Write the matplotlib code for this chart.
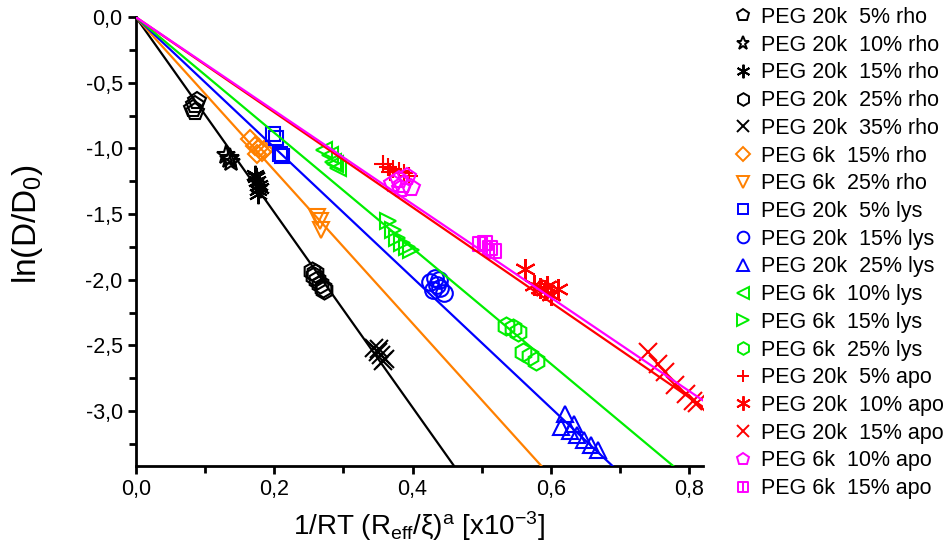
import numpy as np
import matplotlib
matplotlib.use("Agg")
import matplotlib.pyplot as plt
from matplotlib.path import Path
from matplotlib.ticker import FuncFormatter, MultipleLocator

matplotlib.rcParams['font.family'] = ['Liberation Sans', 'DejaVu Sans']
matplotlib.rcParams['mathtext.fontset'] = 'custom'
matplotlib.rcParams['mathtext.rm'] = 'Liberation Sans'
matplotlib.rcParams['mathtext.it'] = 'Liberation Sans'
matplotlib.rcParams['mathtext.default'] = 'regular'

# data: (x, ln(D/D0)) per series
labels = ["PEG 20k  5% rho", "PEG 20k  10% rho", "PEG 20k  15% rho",
          "PEG 20k  25% rho", "PEG 20k  35% rho", "PEG 6k  15% rho",
          "PEG 6k  25% rho", "PEG 20k  5% lys", "PEG 20k  15% lys",
          "PEG 20k  25% lys", "PEG 6k  10% lys", "PEG 6k  15% lys",
          "PEG 6k  25% lys", "PEG 20k  5% apo", "PEG 20k  10% apo",
          "PEG 20k  15% apo", "PEG 6k  10% apo", "PEG 6k  15% apo"]

x_rho20_5 = [0.083, 0.086, 0.088, 0.085]
y_rho20_5 = [-0.70, -0.67, -0.64, -0.72]
x_rho20_10 = [0.130, 0.134, 0.138, 0.136]
y_rho20_10 = [-1.05, -1.08, -1.10, -1.07]
x_rho20_15 = [0.172, 0.175, 0.178, 0.176, 0.180, 0.174, 0.177]
y_rho20_15 = [-1.20, -1.25, -1.28, -1.32, -1.30, -1.22, -1.35]
x_rho20_25 = [0.255, 0.257, 0.262, 0.266, 0.270, 0.272, 0.259]
y_rho20_25 = [-1.93, -1.97, -2.00, -2.03, -2.06, -2.08, -1.95]
x_rho20_35 = [0.345, 0.350, 0.355, 0.360, 0.352, 0.357]
y_rho20_35 = [-2.52, -2.55, -2.57, -2.60, -2.53, -2.62]
x_rho6_15 = [0.165, 0.172, 0.178, 0.182, 0.186, 0.175]
y_rho6_15 = [-0.93, -0.98, -1.00, -1.03, -1.01, -1.04]
x_rho6_25 = [0.262, 0.268, 0.266]
y_rho6_25 = [-1.52, -1.62, -1.55]
x_lys20_5 = [0.198, 0.203, 0.209, 0.212]
y_lys20_5 = [-0.89, -0.92, -1.04, -1.06]
x_lys20_15 = [0.425, 0.432, 0.435, 0.440, 0.445, 0.430, 0.438]
y_lys20_15 = [-2.02, -1.99, -2.04, -2.06, -2.10, -2.08, -2.00]
x_lys20_25 = [0.620, 0.615, 0.628, 0.638, 0.648, 0.658, 0.668, 0.633]
y_lys20_25 = [-3.02, -3.12, -3.15, -3.18, -3.22, -3.26, -3.30, -3.10]
x_lys6_10 = [0.272, 0.280, 0.285, 0.292, 0.288]
y_lys6_10 = [-1.01, -1.05, -1.10, -1.15, -1.12]
x_lys6_15 = [0.365, 0.372, 0.378, 0.385, 0.392, 0.398]
y_lys6_15 = [-1.55, -1.62, -1.68, -1.72, -1.75, -1.77]
x_lys6_25 = [0.535, 0.545, 0.552, 0.560, 0.570, 0.578]
y_lys6_25 = [-2.35, -2.37, -2.40, -2.55, -2.58, -2.62]
x_apo20_5 = [0.358, 0.365, 0.372, 0.380, 0.388, 0.395, 0.368]
y_apo20_5 = [-1.12, -1.14, -1.16, -1.17, -1.19, -1.21, -1.18]
x_apo20_10 = [0.563, 0.575, 0.585, 0.592, 0.600, 0.610, 0.595]
y_apo20_10 = [-1.92, -2.04, -2.06, -2.08, -2.12, -2.07, -2.05]
x_apo20_15 = [0.740, 0.755, 0.765, 0.780, 0.795, 0.805, 0.812]
y_apo20_15 = [-2.55, -2.64, -2.70, -2.80, -2.87, -2.92, -2.94]
x_apo6_10 = [0.372, 0.380, 0.386, 0.392, 0.398, 0.384]
y_apo6_10 = [-1.27, -1.24, -1.28, -1.22, -1.30, -1.31]
x_apo6_15 = [0.498, 0.505, 0.512, 0.518]
y_apo6_15 = [-1.73, -1.72, -1.76, -1.78]

xs = [x_rho20_5, x_rho20_10, x_rho20_15, x_rho20_25, x_rho20_35, x_rho6_15,
      x_rho6_25, x_lys20_5, x_lys20_15, x_lys20_25, x_lys6_10, x_lys6_15,
      x_lys6_25, x_apo20_5, x_apo20_10, x_apo20_15, x_apo6_10, x_apo6_15]
ys = [y_rho20_5, y_rho20_10, y_rho20_15, y_rho20_25, y_rho20_35, y_rho6_15,
      y_rho6_25, y_lys20_5, y_lys20_15, y_lys20_25, y_lys6_10, y_lys6_15,
      y_lys6_25, y_apo20_5, y_apo20_10, y_apo20_15, y_apo6_10, y_apo6_15]

# fitted slopes of the lines through the origin
fit_slopes = [-7.43, -5.83, -4.96, -4.40, -3.62, -3.56]
fit_colors = ["black", "#ff8000", "blue", "#00ee00", "red", "magenta"]

black, orange, blue, green, red, mag = "black", "#ff8000", "blue", "#00ee00", "red", "magenta"
colors = [black] * 5 + [orange] * 2 + [blue] * 3 + [green] * 3 + [red] * 3 + [mag] * 2

# square with a vertical line in the middle
sq_bar = Path([(-1, -1), (1, -1), (1, 1), (-1, 1), (-1, -1), (0, -1), (0, 1)],
              [Path.MOVETO, Path.LINETO, Path.LINETO, Path.LINETO, Path.CLOSEPOLY,
               Path.MOVETO, Path.LINETO])
markers = ["p", "*", (6, 2, 0), "h", "x", "D", "v", "s", "o", "^", "<", ">", "h",
           "+", (6, 2, 0), "x", "p", sq_bar]
sizes = [13, 14, 14, 13, 13, 9.5, 12, 10.5, 12, 12, 12, 12, 13, 13, 15, 13, 13, 10.5]

fig = plt.figure(figsize=(9.5, 5.53), dpi=100)
ax = fig.add_axes([0.143, 0.157, 0.597, 0.812])

xl = np.array([0.0, 0.82])
for s, c in zip(fit_slopes, fit_colors):
    ax.plot(xl, s * xl, color=c, lw=1.6, zorder=3)

handles = []
for x, y, m, c, ms, lab in zip(xs, ys, markers, colors, sizes, labels):
    h, = ax.plot(x, y, ls="none", marker=m, ms=ms, mfc="none", mec=c,
                 mew=1.5, label=lab, zorder=2)
    handles.append(h)

ax.set_xlim(0, 0.82)
ax.set_ylim(-3.42, 0)
for sp in ["top", "right"]:
    ax.spines[sp].set_visible(False)
for sp in ["left", "bottom"]:
    ax.spines[sp].set_linewidth(2)
ax.xaxis.set_major_locator(MultipleLocator(0.2))
ax.xaxis.set_minor_locator(MultipleLocator(0.1))
ax.yaxis.set_major_locator(MultipleLocator(0.5))
ax.yaxis.set_minor_locator(MultipleLocator(0.25))
comma = FuncFormatter(lambda v, p: ("%.1f" % v).replace(".", ",").replace("-0,0", "0,0"))
ax.xaxis.set_major_formatter(comma)
ax.yaxis.set_major_formatter(comma)
ax.tick_params(which="both", direction="out", width=2, labelsize=15.5)
ax.tick_params(which="major", length=6)
ax.tick_params(which="minor", length=5)

ax.set_ylabel(r"ln(D/D$_0$)", fontsize=24)
ax.yaxis.set_label_coords(-0.16, 0.54)
ax.set_xlabel(r"1/RT $(R_{eff}/\xi)^a$ [x10$^{-3}$]", fontsize=20, labelpad=6)

leg = fig.legend(handles=handles, loc="upper left", bbox_to_anchor=(0.763, 1.003),
                 frameon=False, fontsize=15.5, handlelength=0.9, handletextpad=0.4,
                 labelspacing=0.312, markerscale=0.7, borderaxespad=0)
for lh in leg.legend_handles:
    lh.set_markeredgewidth(1.4)

fig.savefig("out.png", dpi=100)
